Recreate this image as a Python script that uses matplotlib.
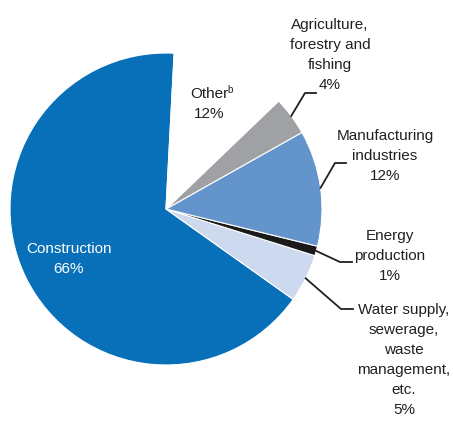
import numpy as np
import matplotlib
matplotlib.use('Agg')
from matplotlib import pyplot as plt

# data
sectors = ['Construction', 'Water supply', 'Energy', 'Manufacturing', 'Agriculture', 'Other']
shares = [66, 5, 1, 12, 4, 12]
colors = ['#0870b8', '#ccd9ee', '#1a1a1a', '#6494cc', '#a0a1a4', '#ffffff']
labels = {
    'Construction': 'Construction\n66%',
    'Water supply': 'Water supply,\nsewerage,\nwaste\nmanagement,\netc.\n5%',
    'Energy': 'Energy\nproduction\n1%',
    'Manufacturing': 'Manufacturing\nindustries\n12%',
    'Agriculture': 'Agriculture,\nforestry and\nfishing\n4%',
    'Other': 'Other\n12%',
}

plt.rcParams['font.family'] = ['Liberation Sans', 'DejaVu Sans']

W, H = 453, 421
fig = plt.figure(figsize=(W / 100, H / 100), dpi=100)
ax = fig.add_axes([0, 0, 1, 1])

cx, cy, r = 166, H - 209, 156
wedges, _ = ax.pie(shares, colors=colors, startangle=87, counterclock=True,
                   center=(cx, cy), radius=r, frame=True,
                   wedgeprops=dict(edgecolor='white', linewidth=0.8))
ax.set_xlim(0, W)
ax.set_ylim(0, H)
ax.set_aspect('equal')
ax.axis('off')

# label placement (pixel coords, y from top) and leader elbows
place = {
    'Construction': (69, 259, None),
    'Other': (209, 104, None),
    'Agriculture': (330, 55, (305, 93, 316)),
    'Manufacturing': (385, 156, (335, 163, 346)),
    'Energy': (390, 256, (340, 262, 352)),
    'Water supply': (404, 360, (341, 309, 353)),
}

FS = 11
for w, name in zip(wedges, sectors):
    x, y, elbow = place[name]
    col = 'white' if name == 'Construction' else '#231f20'
    ax.text(x, H - y, labels[name], ha='center', va='center',
            fontsize=FS, color=col, linespacing=1.55)
    if elbow:
        mid = np.deg2rad((w.theta1 + w.theta2) / 2)
        x0 = cx + r * np.cos(mid)
        y0 = cy + r * np.sin(mid)
        ex, ey, ex2 = elbow
        ax.plot([x0, ex, ex2], [y0, H - ey, H - ey], color='#231f20', lw=1.3)

# footnote marker after "Other"
fig.canvas.draw()
tmp = ax.text(0, 0, 'Other', fontsize=FS)
wid = tmp.get_window_extent().width
tmp.remove()
ox, oy, _ = place['Other']
ax.text(ox + wid / 2 - 1, H - oy + 14, 'b', fontsize=7, color='#231f20',
        ha='left', va='center')

fig.savefig('out.png', dpi=100)
